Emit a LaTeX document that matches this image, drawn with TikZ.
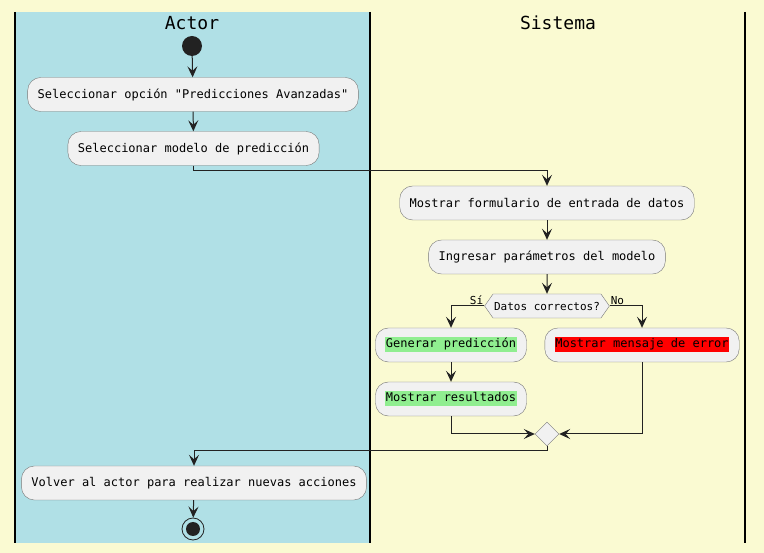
\documentclass[tikz,border=0pt]{standalone}
\usepackage{fontspec}
\setmonofont{DejaVu Sans Mono}
\usepackage{tikz}
\usetikzlibrary{arrows.meta,shapes.geometric,shapes.symbols,positioning}
\definecolor{bgyellow}{RGB}{250,250,210}
\definecolor{lanecyan}{RGB}{176,224,230}
\definecolor{boxfill}{RGB}{241,241,241}
\definecolor{boxline}{RGB}{120,120,120}
\definecolor{okgreen}{RGB}{144,238,144}
\definecolor{dark}{RGB}{34,34,34}
\newcommand{\hl}[2]{{\setlength{\fboxsep}{0.5pt}\colorbox{#1}{\strut #2}}}

\begin{document}
\begin{tikzpicture}[x=1pt,y=-1pt,
  action/.style={draw=boxline, fill=boxfill, rounded corners=13pt, minimum height=34pt, inner xsep=10pt, font=\ttfamily\fontsize{12}{14}\selectfont},
  flow/.style={-{Stealth[length=11pt,width=10pt,inset=4.5pt]}, draw=dark, line width=1pt},
  lanetitle/.style={font=\ttfamily\fontsize{18}{20}\selectfont},
  small/.style={font=\ttfamily\fontsize{11}{13}\selectfont, inner sep=1pt}]
\useasboundingbox (0,0) rectangle (764,553);
\fill[bgyellow] (0,0) rectangle (764,553);

% Swimlanes
\fill[lanecyan] (15,12) rectangle (370,543);
\draw[line width=1.5pt] (15,12) -- (15,543);
\draw[line width=1.5pt] (370,12) -- (370,543);
\draw[line width=1.5pt] (745,12) -- (745,543);
\node[lanetitle] (actorTitle) at (192,23) {Actor};
\node[lanetitle] (sistemaTitle) at (558,23) {Sistema};

% Actor lane
\node[circle, fill=dark, minimum size=20pt, inner sep=0pt] (start) at (192,46) {};
\node[action] (selOpcion) at (193,94.5) {Seleccionar opción "Predicciones Avanzadas"};
\node[action] (selModelo) at (193.5,148.5) {Seleccionar modelo de predicción};

% Sistema lane
\node[action] (mostrarForm) at (547,203) {Mostrar formulario de entrada de datos};
\node[action] (ingresar) at (547,257) {Ingresar parámetros del modelo};
\node[draw=boxline, fill=boxfill, shape=signal, signal to=west and east, signal pointer angle=110,
  minimum height=24pt, inner xsep=1pt, inner ysep=0pt, font=\ttfamily\fontsize{11}{13}\selectfont] (datosOk) at (547,306) {Datos correctos?};
\node[small, anchor=south east] (siLbl) at (datosOk.west) {Sí};
\node[small, anchor=south west] (noLbl) at (datosOk.east) {No};
\node[action] (generar) at (451,345) {\hl{okgreen}{Generar predicción}};
\node[action] (resultados) at (451,399) {\hl{okgreen}{Mostrar resultados}};
\node[action] (mensajeError) at (642,345) {\hl{red}{Mostrar mensaje de error}};
\node[diamond, draw=boxline, fill=boxfill, minimum size=24pt, inner sep=0pt] (merge) at (547,434) {};

% Back to actor
\node[action] (volver) at (194,483) {Volver al actor para realizar nuevas acciones};
\node[circle, draw=dark, line width=0.8pt, minimum size=22pt, inner sep=0pt] (stop) at (193,529) {};
\fill[dark] (stop.center) circle (7pt);

% Connectors
\coordinate (k1) at (547,171);
\coordinate (k2) at (194,451);
\draw[flow] (start) -- (selOpcion);
\draw[flow] (selOpcion) -- (selModelo);
\draw[flow] (selModelo.south) |- (k1) -- (mostrarForm.north);
\draw[flow] (mostrarForm) -- (ingresar);
\draw[flow] (ingresar) -- (datosOk);
\draw[flow] (datosOk.west) -| (generar.north);
\draw[flow] (datosOk.east) -| (mensajeError.north);
\draw[flow] (generar) -- (resultados);
\draw[flow] (resultados.south) |- (merge.west);
\draw[flow] (mensajeError.south) |- (merge.east);
\draw[flow] (merge.south) |- (k2) -- (volver.north);
\draw[flow] (volver) -- (stop);
\end{tikzpicture}
\end{document}
